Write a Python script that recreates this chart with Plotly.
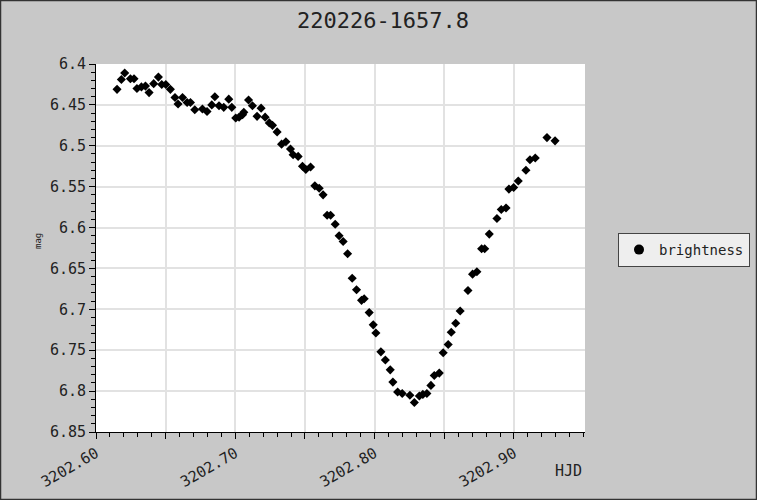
import plotly.graph_objects as go

# Observation times (HJD) and measured magnitudes
hjd = [
    3202.6151, 3202.6182, 3202.6206, 3202.6247, 3202.6273, 3202.6294, 3202.6326, 3202.6355,
    3202.6381, 3202.6414, 3202.6448, 3202.6472, 3202.6501, 3202.6534, 3202.6567, 3202.6589,
    3202.6621, 3202.6654, 3202.6678, 3202.6709, 3202.6764, 3202.6797, 3202.6831, 3202.6853,
    3202.6883, 3202.6917, 3202.6953, 3202.6975, 3202.7003, 3202.7027, 3202.7052, 3202.7061,
    3202.7095, 3202.7123, 3202.7156, 3202.7185, 3202.7214, 3202.7244, 3202.7267, 3202.7300,
    3202.7332, 3202.7363, 3202.7396, 3202.7415, 3202.7451, 3202.7482, 3202.7506, 3202.7540,
    3202.7571, 3202.7602, 3202.7630, 3202.7659, 3202.7684, 3202.7717, 3202.7745, 3202.7774,
    3202.7806, 3202.7839, 3202.7870, 3202.7906, 3202.7925, 3202.7961, 3202.7990, 3202.8009,
    3202.8045, 3202.8077, 3202.8112, 3202.8131, 3202.8165, 3202.8198, 3202.8253, 3202.8285,
    3202.8321, 3202.8346, 3202.8375, 3202.8404, 3202.8428, 3202.8464, 3202.8492, 3202.8528,
    3202.8550, 3202.8582, 3202.8614, 3202.8670, 3202.8703, 3202.8734, 3202.8768, 3202.8790,
    3202.8823, 3202.8878, 3202.8909, 3202.8943, 3202.8964, 3202.8998, 3202.9031, 3202.9086,
    3202.9115, 3202.9153, 3202.9237, 3202.9295,
]
mag = [
    6.431, 6.419, 6.411, 6.418, 6.418, 6.430, 6.428, 6.427,
    6.435, 6.424, 6.416, 6.425, 6.425, 6.431, 6.441, 6.449,
    6.441, 6.447, 6.447, 6.456, 6.455, 6.458, 6.450, 6.440,
    6.451, 6.453, 6.443, 6.453, 6.466, 6.465, 6.462, 6.459,
    6.444, 6.451, 6.464, 6.454, 6.465, 6.472, 6.475, 6.483,
    6.498, 6.495, 6.504, 6.511, 6.513, 6.525, 6.529, 6.526,
    6.549, 6.552, 6.560, 6.585, 6.585, 6.596, 6.610, 6.617,
    6.632, 6.662, 6.676, 6.689, 6.687, 6.704, 6.719, 6.729,
    6.752, 6.762, 6.774, 6.789, 6.801, 6.803, 6.805, 6.814,
    6.806, 6.804, 6.803, 6.793, 6.781, 6.778, 6.753, 6.743,
    6.728, 6.717, 6.702, 6.677, 6.657, 6.654, 6.626, 6.626,
    6.608, 6.589, 6.578, 6.576, 6.553, 6.551, 6.543, 6.530,
    6.517, 6.515, 6.490, 6.494,
]

x_tick_values = [3202.60, 3202.65, 3202.70, 3202.75, 3202.80, 3202.85, 3202.90]
x_tick_labels = ["3202.60", "", "3202.70", "", "3202.80", "", "3202.90"]
y_tick_values = [6.40, 6.45, 6.50, 6.55, 6.60, 6.65, 6.70, 6.75, 6.80, 6.85]
y_tick_labels = ["6.4", "6.45", "6.5", "6.55", "6.6", "6.65", "6.7", "6.75", "6.8", "6.85"]

W, H = 757, 500
ML, MR, MT, MB = 96, 172, 64, 68
PW, PH = W - ML - MR, H - MT - MB
MONO = "DejaVu Sans Mono"


def px_x(p):
    return (p - ML) / PW


def px_y(p):
    return (H - MB - p) / PH


fig = go.Figure()
fig.add_trace(go.Scatter(
    x=hjd, y=mag, mode="markers", showlegend=False,
    marker=dict(symbol="diamond", size=7, color="black"),
))
# legend entry uses a round symbol
fig.add_trace(go.Scatter(
    x=[None], y=[None], mode="markers", name="brightness",
    marker=dict(symbol="circle", size=10, color="black"),
))

axis_common = dict(
    showline=True, linecolor="black", linewidth=1, mirror=False,
    ticks="outside", ticklen=6, tickcolor="black",
    showgrid=True, gridcolor="#e2e2e2", gridwidth=1.5, zeroline=False,
    tickfont=dict(family=MONO, size=15, color="#222"),
    automargin=False,
)

fig.update_xaxes(
    range=[3202.60, 3202.951], tickmode="array",
    tickvals=x_tick_values, ticktext=x_tick_labels, tickangle=-30,
    minor=dict(dtick=0.01, tick0=3202.60, ticks="outside", ticklen=4,
               tickcolor="black", showgrid=False),
    **axis_common,
)
fig.update_yaxes(
    range=[6.85, 6.40], tickmode="array",
    tickvals=y_tick_values, ticktext=y_tick_labels,
    minor=dict(dtick=0.01, tick0=6.40, ticks="outside", ticklen=4,
               tickcolor="black", showgrid=False),
    **axis_common,
)

fig.update_layout(
    width=W, height=H, autosize=False,
    margin=dict(l=ML, r=MR, t=MT, b=MB, pad=0, autoexpand=False),
    paper_bgcolor="#c8c8c8", plot_bgcolor="white",
    title=dict(text="220226-1657.8", x=383 / W, xref="container", xanchor="center",
               y=1 - 20 / H, yref="container", yanchor="middle",
               font=dict(family=MONO, size=22, color="#222")),
    legend=dict(x=px_x(618), xanchor="left", y=px_y(250), yanchor="middle",
                bgcolor="#eeeeee", bordercolor="#444", borderwidth=1,
                font=dict(family=MONO, size=14, color="#222")),
    annotations=[
        dict(text="HJD", x=px_x(568.5), y=px_y(471), xref="paper", yref="paper",
             showarrow=False, xanchor="center", yanchor="middle",
             font=dict(family=MONO, size=15, color="#222")),
        dict(text="mag", x=px_x(37.5), y=px_y(241.5), xref="paper", yref="paper",
             showarrow=False, textangle=-90, xanchor="center", yanchor="middle",
             font=dict(family=MONO, size=9, color="#222")),
    ],
    shapes=[
        dict(type="rect", xref="paper", yref="paper",
             x0=px_x(0.5), x1=px_x(W - 0.5), y0=px_y(H - 0.5), y1=px_y(0.5),
             line=dict(color="#333", width=1.5), fillcolor="rgba(0,0,0,0)", layer="above"),
    ],
)

fig.write_html("out.html", config={"responsive": False},
               default_width="757px", default_height="500px")
